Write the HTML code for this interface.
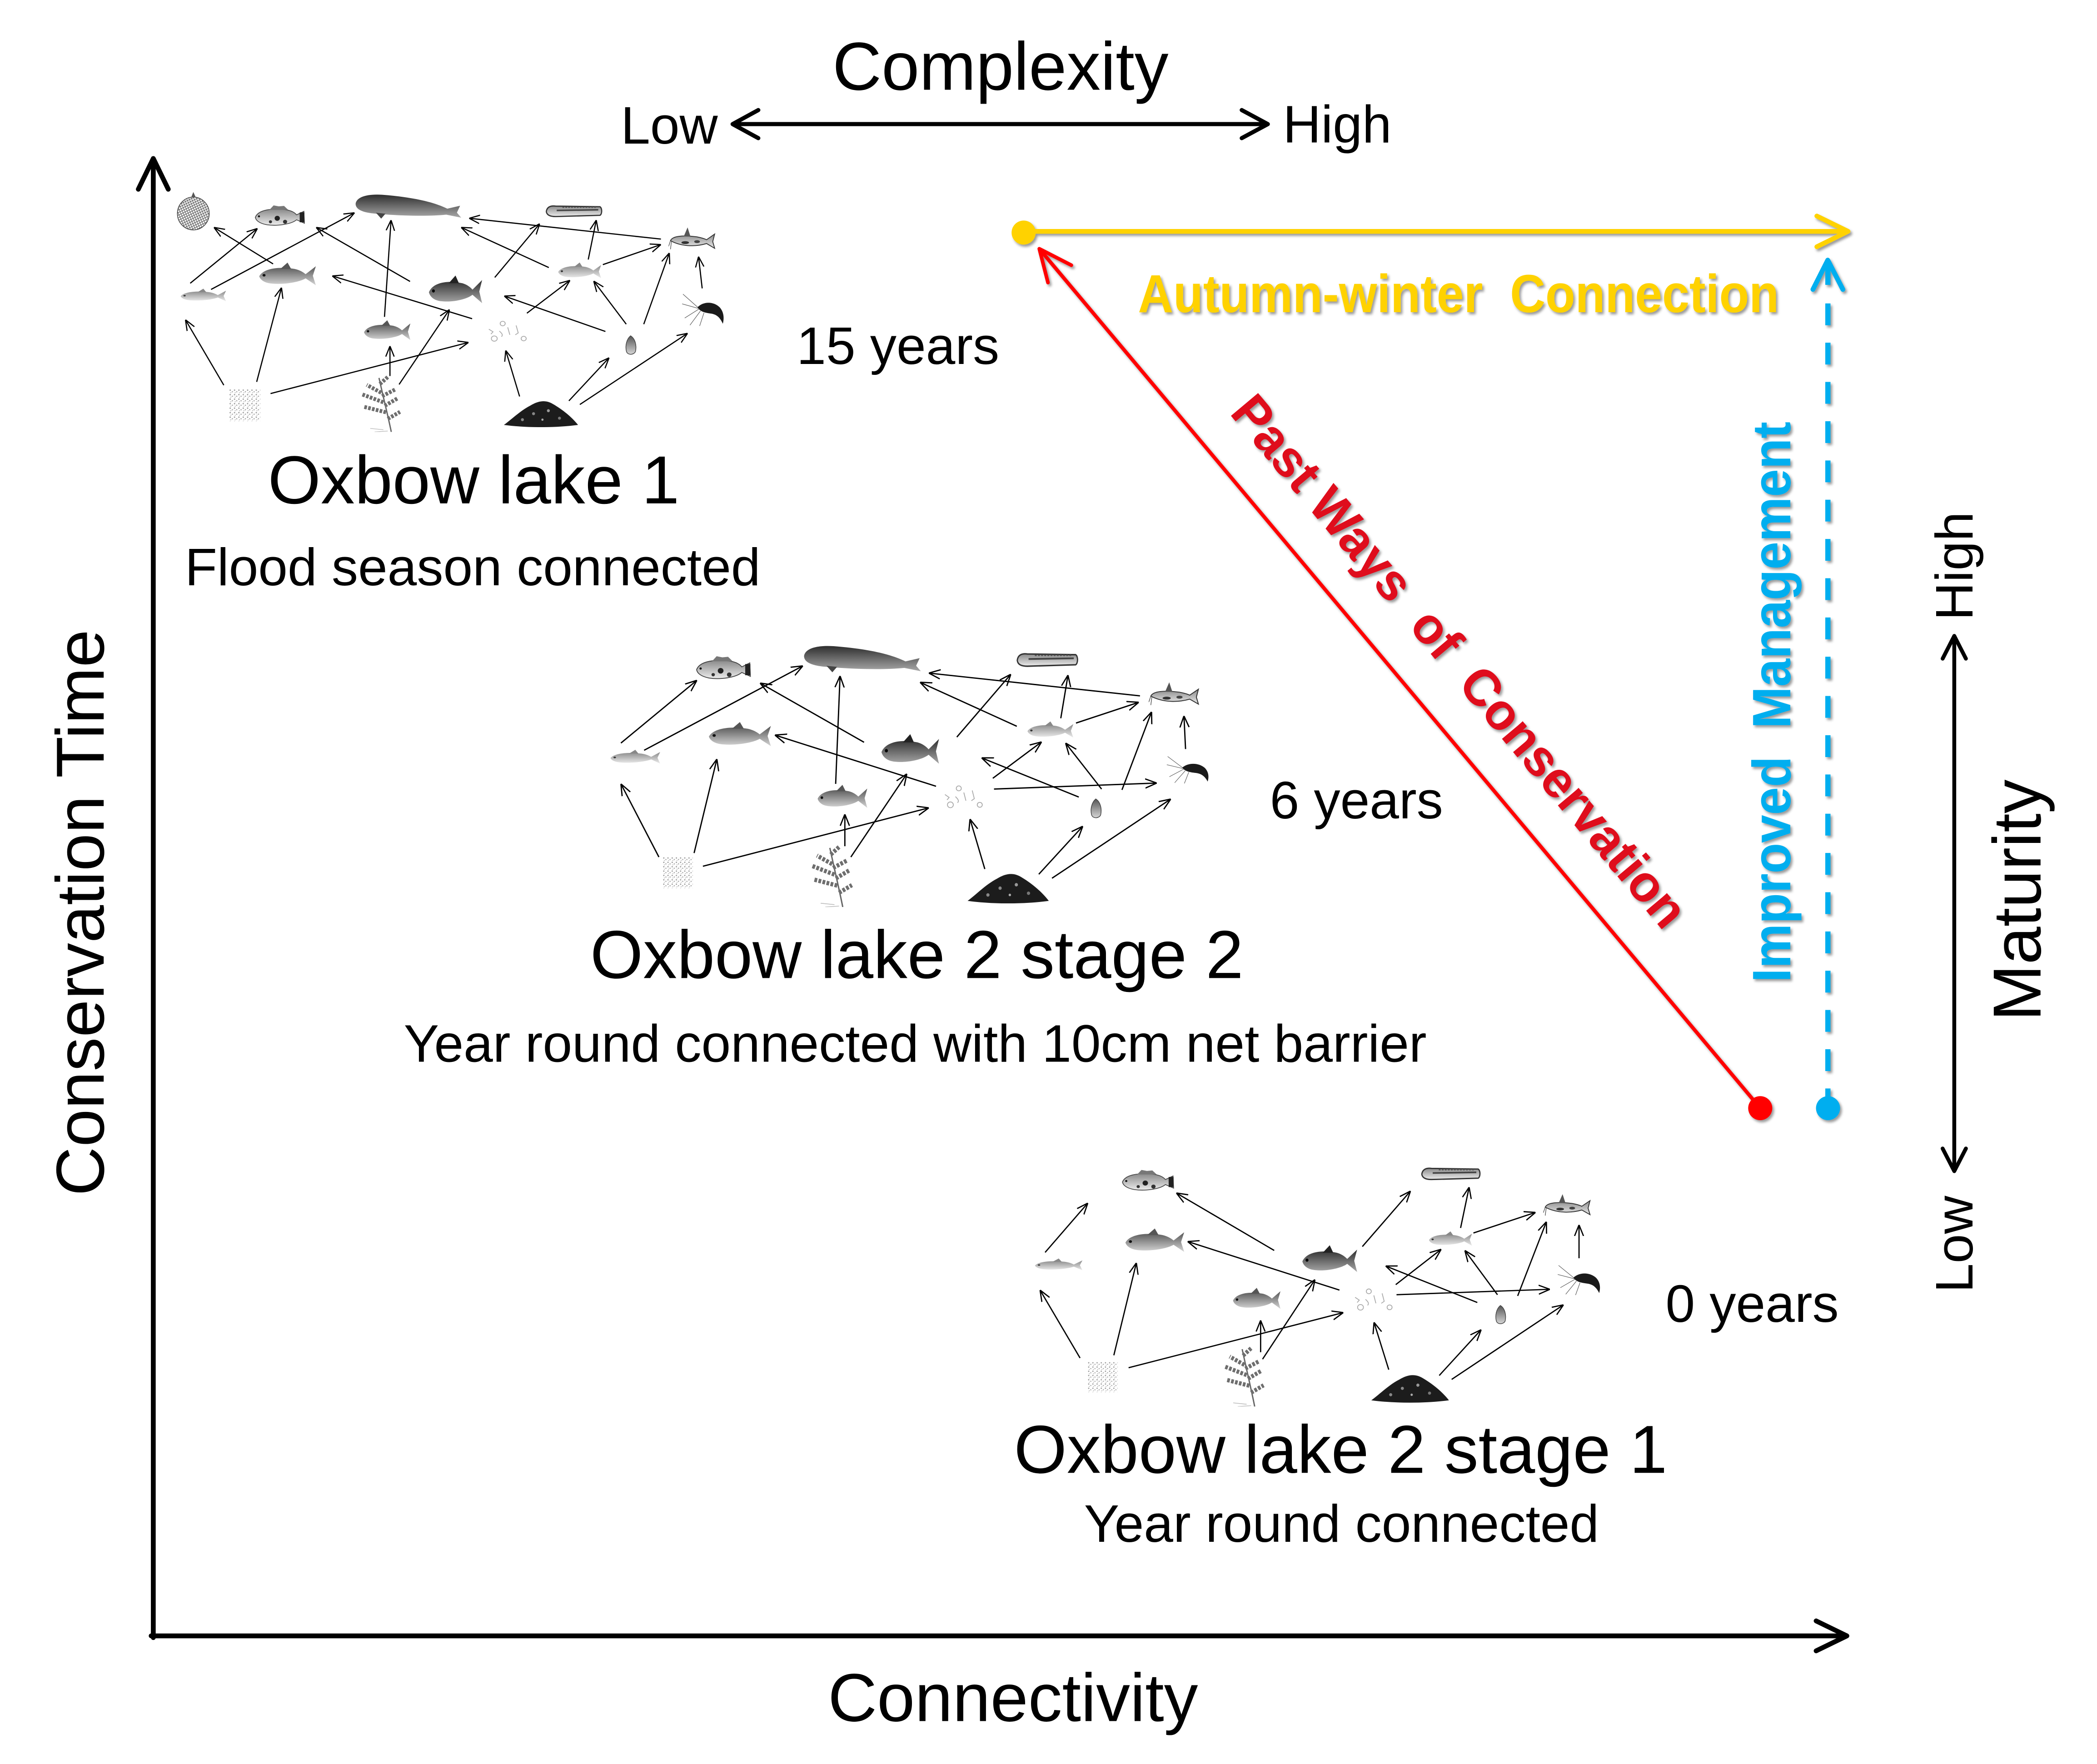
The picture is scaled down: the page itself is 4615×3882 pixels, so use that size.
<!DOCTYPE html>
<html><head><meta charset="utf-8"><title>Oxbow lake conservation diagram</title>
<style>
html,body{margin:0;padding:0;background:#fff;}
svg{display:block;}
text{font-family:"Liberation Sans",Arial,sans-serif;}
</style></head>
<body>
<svg xmlns="http://www.w3.org/2000/svg" width="4615" height="3882" viewBox="0 0 1568 1319">
<defs>
  <linearGradient id="gDark" x1="0" y1="0" x2="0" y2="1"><stop offset="0" stop-color="#2e2e2e"/><stop offset="1" stop-color="#a8a8a8"/></linearGradient>
  <linearGradient id="gMid" x1="0" y1="0" x2="0" y2="1"><stop offset="0" stop-color="#555"/><stop offset="1" stop-color="#d5d5d5"/></linearGradient>
  <linearGradient id="gLight" x1="0" y1="0" x2="0" y2="1"><stop offset="0" stop-color="#8a8a8a"/><stop offset="1" stop-color="#ececec"/></linearGradient>
  <path id="fp" d="M3,27 C10,12 35,8 62,13 C70,15 76,19 80,23 L97,8 L92,26 L97,44 L80,31 C70,38 45,43 25,41 C12,40 5,34 3,27 Z"/>
  <path id="ffin" d="M38,13 L50,1 L56,13 Z"/>
  <pattern id="mesh" width="9" height="9" patternUnits="userSpaceOnUse" patternTransform="rotate(20)"><path d="M0,0 L9,9 M9,0 L0,9" stroke="#444" stroke-width="1.2"/></pattern>
  <pattern id="dots" width="14" height="14" patternUnits="userSpaceOnUse"><circle cx="3" cy="3" r="2.2" fill="#9a9a9a"/><circle cx="10" cy="8" r="2" fill="#aaa"/><circle cx="5" cy="11" r="1.6" fill="#b5b5b5"/></pattern>

  <symbol id="fishM" viewBox="0 0 100 50" preserveAspectRatio="none"><use href="#fp" fill="url(#gMid)"/><use href="#ffin" fill="#555"/><circle cx="11" cy="25" r="2.5" fill="#111"/></symbol>
  <symbol id="fishD" viewBox="0 0 100 50" preserveAspectRatio="none"><use href="#fp" fill="url(#gDark)"/><use href="#ffin" fill="#222"/><circle cx="11" cy="25" r="2.5" fill="#000"/></symbol>
  <symbol id="fishL" viewBox="0 0 100 50" preserveAspectRatio="none"><use href="#fp" fill="url(#gLight)"/><use href="#ffin" fill="#888"/><circle cx="11" cy="25" r="2.5" fill="#333"/></symbol>
  <symbol id="perch" viewBox="0 0 100 50" preserveAspectRatio="none"><path d="M3,26 C8,12 30,8 55,10 C70,11 78,16 82,21 L96,14 L97,38 L82,31 C72,40 45,44 25,41 C10,38 4,32 3,26Z" fill="url(#gLight)" stroke="#444" stroke-width="1.5"/><path d="M30,11 L38,2 L48,4 L58,3 L66,11Z" fill="#777"/><circle cx="45" cy="28" r="5" fill="#222"/><circle cx="60" cy="35" r="4" fill="#333"/><circle cx="32" cy="35" r="3" fill="#333"/><rect x="88" y="16" width="9" height="20" fill="#222"/><circle cx="10" cy="24" r="2" fill="#111"/></symbol>
  <symbol id="dugong" viewBox="0 0 100 25" preserveAspectRatio="none"><path d="M1,10 C2,3 12,0 26,1 C50,3 72,7 87,15 L99,12 L96,19 L100,24 L86,21 C68,23 40,22 20,20 C8,19 1,16 1,10Z" fill="url(#gDark)"/><path d="M20,19 L25,25 L29,20Z" fill="#444"/></symbol>
  <symbol id="snake" viewBox="0 0 100 25" preserveAspectRatio="none"><path d="M2,13 C3,5 10,3 18,4 L95,5 C99,7 99,17 95,19 L18,21 C9,21 3,19 2,13Z" fill="url(#gLight)" stroke="#333" stroke-width="2"/><path d="M20,11 L92,10" stroke="#444" stroke-width="2.5"/><path d="M30,6 L90,6" stroke="#555" stroke-width="2" stroke-dasharray="3 2"/></symbol>
  <symbol id="cat" viewBox="0 0 100 50" preserveAspectRatio="none"><path d="M4,28 C8,18 30,16 60,20 C70,22 76,24 80,26 L97,14 L93,30 L97,44 L80,34 C60,40 30,42 4,28Z" fill="url(#gLight)" stroke="#333" stroke-width="1.8"/><path d="M32,19 L40,0 L46,19Z" fill="#555"/><path d="M4,28 L0,40 M6,30 L4,46" stroke="#444" stroke-width="1.2"/><ellipse cx="35" cy="32" rx="8" ry="3" fill="#333"/><ellipse cx="60" cy="30" rx="6" ry="3" fill="#444"/></symbol>
  <symbol id="shrimp" viewBox="0 0 100 80" preserveAspectRatio="none"><path d="M35,38 C48,24 72,24 86,38 C94,47 97,60 93,75 C87,62 80,54 66,52 C52,50 42,48 35,38Z" fill="#1a1a1a"/><path d="M36,38 L2,8 M36,40 L0,30 M38,42 L6,62 M42,46 L18,78 M50,50 L40,80" stroke="#555" stroke-width="1.2" fill="none"/></symbol>
  <symbol id="net" viewBox="0 0 100 110" preserveAspectRatio="none"><ellipse cx="50" cy="62" rx="45" ry="45" fill="#f2f2f2"/><ellipse cx="50" cy="62" rx="45" ry="45" fill="url(#mesh)" stroke="#444" stroke-width="2"/><path d="M44,18 L50,3 L57,18Z" fill="#555"/></symbol>
  <symbol id="phyto" viewBox="0 0 100 100" preserveAspectRatio="none"><rect width="100" height="100" fill="url(#dots)"/></symbol>
  <symbol id="plant" viewBox="0 0 100 130" preserveAspectRatio="none"><path d="M78,130 C72,100 62,60 50,6" stroke="#666" stroke-width="3" fill="none"/><path d="M66,85 L14,72 M60,62 L12,44 M55,40 L22,22 M70,100 L98,84 M63,70 L94,52 M57,48 L88,32 M52,20 L70,4" stroke="#6e6e6e" stroke-width="9" stroke-dasharray="6 3" fill="none"/><path d="M60,125 L30,122 M70,128 L40,130" stroke="#bbb" stroke-width="1.5"/></symbol>
  <symbol id="det" viewBox="0 0 100 40" preserveAspectRatio="none"><path d="M0,37 C10,30 22,18 36,11 C46,5 56,3 66,9 C80,17 92,27 100,37 C70,41 30,41 0,37Z" fill="#1c1c1c"/><circle cx="40" cy="22" r="2" fill="#888"/><circle cx="60" cy="18" r="2" fill="#999"/><circle cx="75" cy="28" r="2" fill="#777"/><circle cx="25" cy="30" r="2" fill="#888"/><circle cx="52" cy="30" r="1.5" fill="#aaa"/></symbol>
  <symbol id="zoo" viewBox="0 0 100 70" preserveAspectRatio="none"><g fill="none" stroke="#aaa" stroke-width="2"><circle cx="38" cy="10" r="6"/><circle cx="18" cy="50" r="7"/><circle cx="88" cy="50" r="6"/><path d="M5,25 L15,32 L10,38 M50,20 L55,40 M70,15 L75,35 L68,40 M30,30 C35,35 40,40 35,45"/></g></symbol>
  <symbol id="snail" viewBox="0 0 40 60" preserveAspectRatio="none"><path d="M20,2 C33,10 38,30 34,48 C30,58 12,60 8,48 C4,32 8,12 20,2Z" fill="url(#gMid)" stroke="#444" stroke-width="2"/></symbol>

  <marker id="ah" viewBox="0 0 10 10" refX="10" refY="5" markerWidth="9" markerHeight="9" orient="auto" markerUnits="strokeWidth"><path d="M0,1 L10,5 L0,9" fill="none" stroke="#000" stroke-width="1.1"/></marker>

  <filter id="sh" filterUnits="userSpaceOnUse" x="0" y="0" width="1568" height="1319"><feDropShadow dx="1.3" dy="1.6" stdDeviation="1" flood-color="#000" flood-opacity="0.4"/></filter>
</defs>

<rect width="1568" height="1319" fill="#fff"/>

<!-- ===== WEB 1 ===== -->
<g transform="translate(129.1,135.9) scale(0.27306)">
  <use href="#net" x="8" y="25" width="97" height="110"/>
  <use href="#perch" x="222" y="62" width="143" height="68"/>
  <use href="#dugong" x="498" y="33" width="292" height="68"/>
  <use href="#snake" x="1020" y="60" width="158" height="42"/>
  <use href="#cat" x="1358" y="125" width="130" height="65"/>
  <use href="#fishL" x="18" y="292" width="132" height="40"/>
  <use href="#fishM" x="232" y="220" width="165" height="72"/>
  <use href="#fishD" x="697" y="255" width="155" height="88"/>
  <use href="#fishL" x="1052" y="220" width="125" height="50"/>
  <use href="#shrimp" x="1395" y="298" width="120" height="97"/>
  <use href="#fishM" x="520" y="378" width="135" height="63"/>
  <use href="#zoo" x="860" y="378" width="115" height="72"/>
  <use href="#snail" x="1235" y="420" width="38" height="56"/>
  <use href="#phyto" x="155" y="568" width="85" height="88"/>
  <use href="#plant" x="505" y="530" width="120" height="155"/>
  <use href="#det" x="907" y="590" width="203" height="82"/>
  <g stroke="#000" stroke-width="3.2" fill="none" marker-end="url(#ah)">
    <path d="M140,557 L35,378"/><path d="M230,548 L298,290"/><path d="M268,580 L810,440"/>
    <path d="M595,532 L595,450"/><path d="M620,555 L758,350"/><path d="M580,370 L598,105"/>
    <path d="M950,588 L912,462"/><path d="M1085,600 L1195,482"/><path d="M1115,610 L1410,415"/>
    <path d="M820,375 L437,258"/><path d="M970,360 L1088,270"/><path d="M1185,410 L908,313"/>
    <path d="M1242,390 L1153,272"/><path d="M1290,390 L1360,195"/><path d="M1450,292 L1440,205"/>
    <path d="M48,278 L232,128"/><path d="M105,295 L498,85"/><path d="M275,225 L113,125"/>
    <path d="M650,273 L393,125"/><path d="M882,262 L1005,115"/><path d="M1030,235 L790,125"/>
    <path d="M1138,213 L1160,105"/><path d="M1178,227 L1337,172"/><path d="M1337,157 L812,100"/>
  </g>
</g>

<!-- ===== WEB 2 ===== -->
<g transform="translate(455.3,468.9) scale(0.29902)">
  <use href="#perch" x="215" y="70" width="143" height="70"/>
  <use href="#dugong" x="485" y="45" width="295" height="68"/>
  <use href="#snake" x="1018" y="60" width="157" height="45"/>
  <use href="#cat" x="1350" y="138" width="128" height="62"/>
  <use href="#fishL" x="0" y="306" width="132" height="40"/>
  <use href="#fishM" x="245" y="236" width="165" height="70"/>
  <use href="#fishD" x="677" y="266" width="153" height="86"/>
  <use href="#fishL" x="1043" y="235" width="122" height="47"/>
  <use href="#shrimp" x="1395" y="316" width="110" height="75"/>
  <use href="#fishM" x="518" y="393" width="132" height="67"/>
  <use href="#zoo" x="835" y="393" width="105" height="72"/>
  <use href="#snail" x="1200" y="428" width="35" height="52"/>
  <use href="#phyto" x="135" y="575" width="75" height="78"/>
  <use href="#plant" x="495" y="545" width="115" height="155"/>
  <use href="#det" x="897" y="606" width="203" height="85"/>
  <g stroke="#000" stroke-width="3.2" fill="none" marker-end="url(#ah)">
    <path d="M125,575 L30,392"/><path d="M213,565 L270,330"/><path d="M235,598 L800,452"/>
    <path d="M590,548 L590,468"/><path d="M605,575 L745,367"/><path d="M567,392 L578,122"/>
    <path d="M940,605 L903,480"/><path d="M1075,618 L1185,498"/><path d="M1108,628 L1405,430"/>
    <path d="M818,398 L415,270"/><path d="M960,378 L1082,287"/><path d="M1175,425 L932,327"/>
    <path d="M1232,405 L1142,290"/><path d="M1283,407 L1357,212"/><path d="M1442,305 L1438,222"/>
    <path d="M963,405 L1370,390"/><path d="M30,290 L220,133"/><path d="M88,308 L485,97"/>
    <path d="M638,288 L378,140"/><path d="M870,275 L1005,118"/><path d="M1020,248 L778,138"/>
    <path d="M1130,228 L1148,120"/><path d="M1168,240 L1325,188"/><path d="M1328,172 L800,115"/>
  </g>
</g>

<!-- ===== WEB 3 ===== -->
<g transform="translate(771.3,863.0) scale(0.29036)">
  <use href="#perch" x="230" y="38" width="140" height="65"/>
  <use href="#snake" x="1002" y="30" width="156" height="42"/>
  <use href="#cat" x="1318" y="103" width="124" height="60"/>
  <use href="#fishL" x="5" y="268" width="130" height="35"/>
  <use href="#fishM" x="237" y="190" width="161" height="70"/>
  <use href="#fishD" x="693" y="233" width="150" height="80"/>
  <use href="#fishL" x="1020" y="198" width="118" height="43"/>
  <use href="#shrimp" x="1355" y="278" width="115" height="85"/>
  <use href="#fishM" x="515" y="343" width="130" height="63"/>
  <use href="#zoo" x="828" y="343" width="107" height="72"/>
  <use href="#snail" x="1190" y="388" width="35" height="52"/>
  <use href="#phyto" x="145" y="535" width="77" height="78"/>
  <use href="#plant" x="485" y="495" width="115" height="155"/>
  <use href="#det" x="875" y="558" width="200" height="82"/>
  <g stroke="#000" stroke-width="3.2" fill="none" marker-end="url(#ah)">
    <path d="M125,525 L22,350"/><path d="M212,518 L270,280"/><path d="M250,550 L803,408"/>
    <path d="M590,510 L590,428"/><path d="M595,528 L730,323"/><path d="M920,555 L882,433"/>
    <path d="M1050,570 L1158,452"/><path d="M1082,580 L1370,388"/><path d="M793,350 L402,225"/>
    <path d="M938,336 L1055,245"/><path d="M1148,382 L912,288"/><path d="M1200,362 L1116,248"/>
    <path d="M1252,365 L1326,174"/><path d="M1410,268 L1410,182"/><path d="M940,362 L1335,348"/>
    <path d="M35,253 L145,126"/><path d="M625,248 L373,100"/><path d="M852,238 L976,95"/>
    <path d="M1105,190 L1127,85"/><path d="M1138,203 L1298,150"/>
  </g>
</g>

<!-- ===== AXES ===== -->
<g stroke="#000" fill="none" stroke-linecap="round" stroke-linejoin="round">
  <path d="M114.6,1224.5 L114.6,120" stroke-width="3.6"/>
  <path d="M103.4,141.5 L114.6,118.5 L125.8,141.5" stroke-width="3.6"/>
  <path d="M113,1223.2 L1379,1223.2" stroke-width="3.6"/>
  <path d="M1358,1212 L1381,1223.2 L1358,1234.4" stroke-width="3.6"/>
  <!-- complexity arrow -->
  <path d="M549,92.8 L946.5,92.8" stroke-width="3.1"/>
  <path d="M567,82.3 L547.8,92.8 L567,103.3" stroke-width="3.1"/>
  <path d="M928.5,82.3 L948,92.8 L928.5,103.3" stroke-width="3.1"/>
  <!-- maturity arrow -->
  <path d="M1461.3,477 L1461.3,874" stroke-width="2.9"/>
  <path d="M1452.6,492.5 L1461.3,475.5 L1470,492.5" stroke-width="2.9"/>
  <path d="M1452.6,858.8 L1461.3,875.7 L1470,858.8" stroke-width="2.9"/>
</g>

<!-- ===== TEXT (black) ===== -->
<g fill="#000">
  <text x="622.5" y="67.1" font-size="50.8">Complexity</text>
  <text x="464.2" y="107.3" font-size="39.5">Low</text>
  <text x="959.3" y="106.5" font-size="39.5">High</text>
  <text x="595.7" y="272.2" font-size="39.5">15 years</text>
  <text x="200.3" y="376.4" font-size="50.8">Oxbow lake 1</text>
  <text x="138.2" y="437.6" font-size="39.5">Flood season connected</text>
  <text x="949.5" y="612" font-size="39.5">6 years</text>
  <text x="441.3" y="731.3" font-size="50.8">Oxbow lake 2 stage 2</text>
  <text x="301.9" y="793.9" font-size="39.5">Year round connected with 10cm net barrier</text>
  <text x="1245.4" y="988.4" font-size="39.5">0 years</text>
  <text x="758.2" y="1101.3" font-size="50.8">Oxbow lake 2 stage 1</text>
  <text x="810.6" y="1152.8" font-size="39.5">Year round connected</text>
  <text x="619.1" y="1286.9" font-size="50.8">Connectivity</text>
  <text x="77.5" y="894.2" font-size="50.8" transform="rotate(-90 77.5 894.2)">Conservation Time</text>
  <text x="1525.8" y="763.5" font-size="50.8" transform="rotate(-90 1525.8 763.5)">Maturity</text>
  <text x="1474.9" y="463.9" font-size="39.5" transform="rotate(-90 1474.9 463.9)">High</text>
  <text x="1474.9" y="966.6" font-size="39.5" transform="rotate(-90 1474.9 966.6)">Low</text>
</g>

<!-- ===== COLORED ARROWS ===== -->
<g filter="url(#sh)">
  <!-- yellow -->
  <g stroke="#FFD200" fill="none" stroke-linecap="round" stroke-linejoin="round">
    <path d="M765.4,173 L1380,173" stroke-width="3.5"/>
    <path d="M1358.5,161.5 L1381.9,173 L1358.5,184.5" stroke-width="3.5"/>
  </g>
  <circle cx="765.4" cy="173.9" r="9" fill="#FFD200"/>
  <!-- red -->
  <g stroke="#FF0000" fill="none" stroke-linecap="round" stroke-linejoin="round">
    <path d="M1316.2,828.6 L778.5,187.7" stroke-width="2.7"/>
    <path d="M801.1,198.3 L777.1,186 L783.6,211.3" stroke-width="2.7"/>
  </g>
  <circle cx="1316.2" cy="828.6" r="9" fill="#FF0000"/>
  <!-- blue -->
  <g stroke="#00AEEF" fill="none" stroke-linejoin="round">
    <path d="M1366.8,226.9 L1366.8,822" stroke-width="3.9" stroke-dasharray="16.3 13.05"/>
    <path d="M1366.8,196 L1366.8,213" stroke-width="3.9"/>
    <path d="M1355.6,216.4 L1366.7,194.5 L1378,216.4" stroke-width="3.6" stroke-linecap="round"/>
  </g>
  <circle cx="1366.9" cy="828.6" r="9" fill="#00AEEF"/>

  <text x="850.9" y="233.4" font-size="40" font-weight="bold" fill="#FFD200" textLength="479.3" lengthAdjust="spacingAndGlyphs" style="white-space:pre">Autumn-winter  Connection</text>
</g>
<g filter="url(#sh)">
  <text x="918.8" y="309" font-size="38.5" font-weight="bold" fill="#DF0A1E" transform="rotate(50 918.8 309)" textLength="506" lengthAdjust="spacingAndGlyphs" style="white-space:pre">Past Ways  of  Conservation</text>
</g>
<g filter="url(#sh)">
  <text x="1338.6" y="734.5" font-size="40.5" font-weight="bold" fill="#00AEEF" transform="rotate(-90 1338.6 734.5)" textLength="419.2" lengthAdjust="spacingAndGlyphs" style="white-space:pre">Improved  Management</text>
</g>
</svg>
</body></html>
